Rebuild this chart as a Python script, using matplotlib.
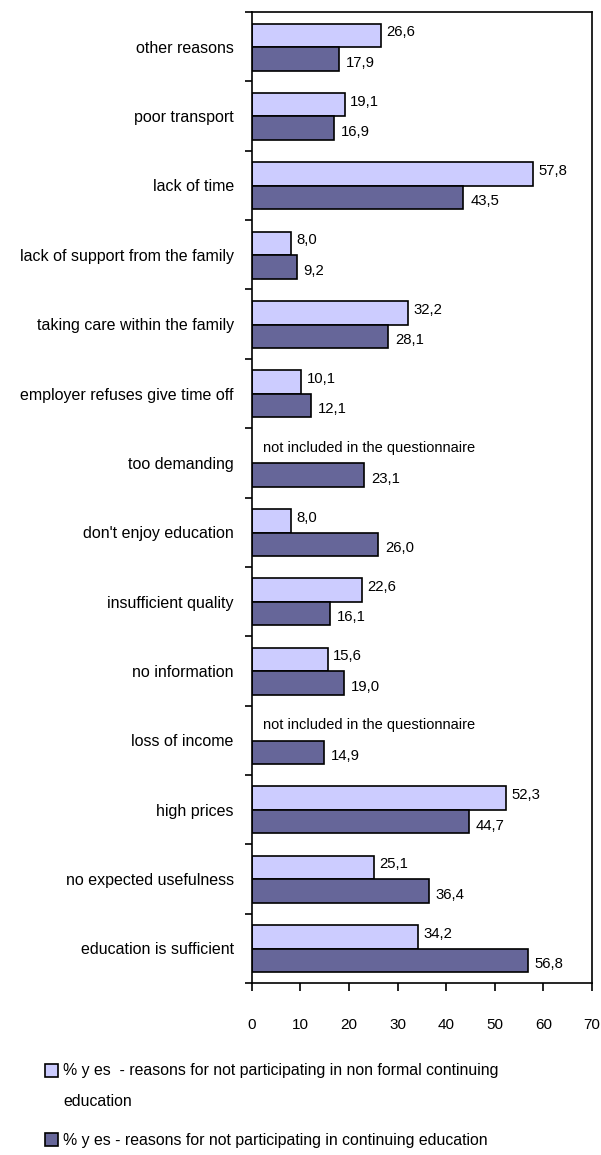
import numpy as np
import matplotlib.pyplot as plt
from matplotlib.patches import Rectangle
from matplotlib.ticker import FixedLocator

plt.rcParams['font.family'] = ['Liberation Sans', 'DejaVu Sans']

# reasons, listed from top to bottom
reasons = ["other reasons", "poor transport", "lack of time",
           "lack of support from the family", "taking care within the family",
           "employer refuses give time off", "too demanding",
           "don't enjoy education", "insufficient quality", "no information",
           "loss of income", "high prices", "no expected usefulness",
           "education is sufficient"]
non_formal = [26.6, 19.1, 57.8, 8.0, 32.2, 10.1, None, 8.0, 22.6, 15.6, None, 52.3, 25.1, 34.2]
continuing = [17.9, 16.9, 43.5, 9.2, 28.1, 12.1, 23.1, 26.0, 16.1, 19.0, 14.9, 44.7, 36.4, 56.8]
xticks = [0, 10, 20, 30, 40, 50, 60, 70]

light = '#CCCCFF'
dark = '#666699'

fig = plt.figure(figsize=(6.01, 11.55), dpi=100)
ax = fig.add_axes([0.419, 0.149, 0.566, 0.8405])

n = len(reasons)
y = np.arange(n)
h = 0.34

def fmt(v):
    return f"{v:.1f}".replace('.', ',')

for i in range(n):
    if non_formal[i] is not None:
        ax.barh(y[i] - 0.165, non_formal[i], height=h, color=light,
                edgecolor='black', linewidth=1.2)
        ax.annotate(fmt(non_formal[i]), (non_formal[i], y[i] - 0.21),
                    xytext=(4, 0), textcoords='offset points',
                    va='center', ha='left', fontsize=10.7)
    else:
        ax.annotate("not included in the questionnaire", (0, y[i] - 0.22),
                    xytext=(8, 0), textcoords='offset points',
                    va='center', ha='left', fontsize=10.5)
    ax.barh(y[i] + 0.175, continuing[i], height=h, color=dark,
            edgecolor='black', linewidth=1.2)
    ax.annotate(fmt(continuing[i]), (continuing[i], y[i] + 0.23),
                xytext=(5, 0), textcoords='offset points',
                va='center', ha='left', fontsize=10.7)

ax.set_ylim(n - 0.5, -0.5)
ax.set_xlim(0, 70)
ax.set_xticks(xticks)
ax.set_xticklabels([str(t) for t in xticks], fontsize=11)
ax.tick_params(axis='x', direction='out', length=6, width=1.2, pad=19)

ax.set_yticks(y)
ax.set_yticklabels(reasons, fontsize=11.5)
ax.yaxis.set_minor_locator(FixedLocator(np.arange(n + 1) - 0.5))
ax.tick_params(axis='y', which='major', length=0, pad=13)
ax.tick_params(axis='y', which='minor', direction='out', length=5, width=1.2)

for s in ax.spines.values():
    s.set_linewidth(1.2)

# legend drawn by hand below the plot
for yy, col in [(1071, light), (1140, dark)]:
    fig.patches.append(Rectangle((45 / 601, 1 - (yy + 6) / 1155), 13 / 601, 13 / 1155,
                                 transform=fig.transFigure, facecolor=col,
                                 edgecolor='black', linewidth=1.2))
fig.text(63 / 601, 1 - 1071 / 1155, "% y es  - reasons for not participating in non formal continuing",
         fontsize=11.4, va='center', ha='left')
fig.text(63 / 601, 1 - 1102 / 1155, "education", fontsize=11.4, va='center', ha='left')
fig.text(63 / 601, 1 - 1140 / 1155, "% y es - reasons for not participating in continuing education",
         fontsize=11.4, va='center', ha='left')

fig.savefig('out.png', dpi=100)
